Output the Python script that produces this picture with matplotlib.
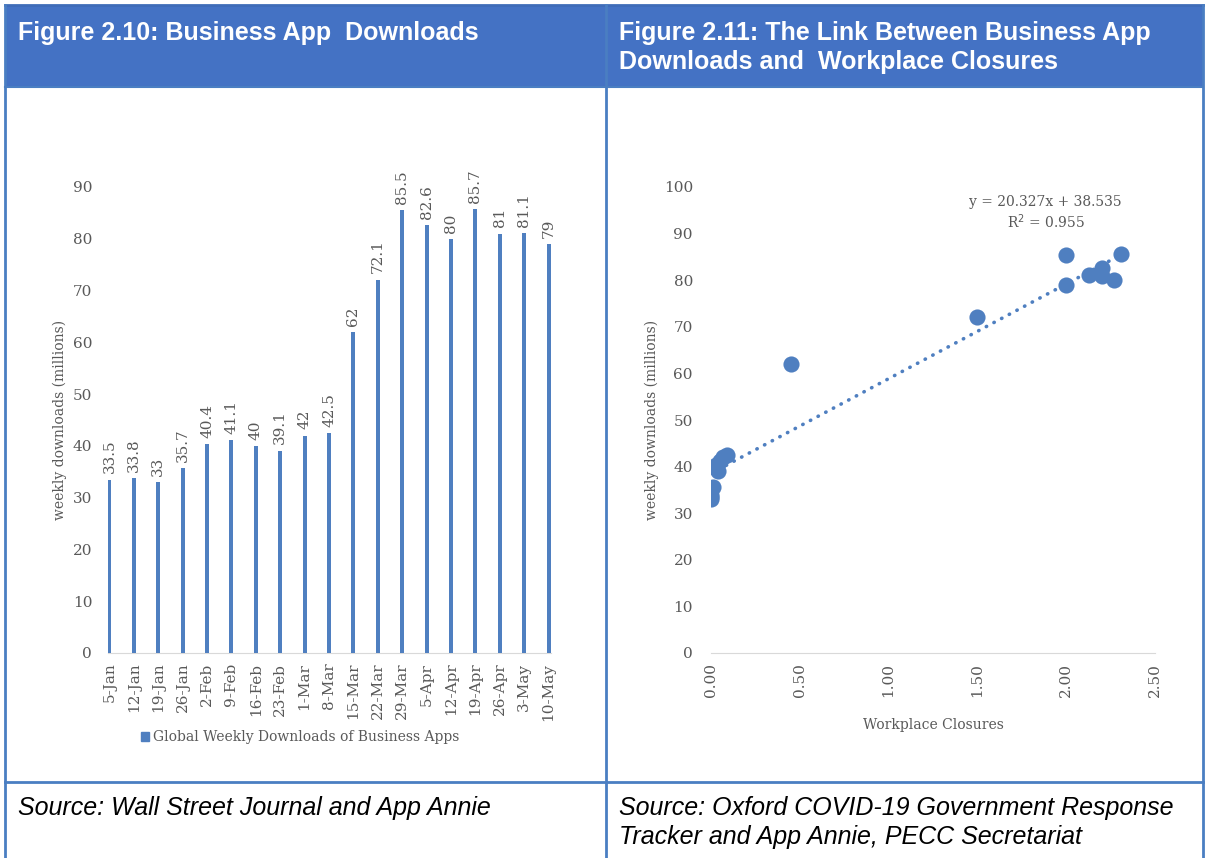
import numpy as np
import matplotlib.pyplot as plt
from matplotlib.patches import Rectangle, Patch

# weekly business app downloads (millions)
weeks = ['5-Jan', '12-Jan', '19-Jan', '26-Jan', '2-Feb', '9-Feb', '16-Feb', '23-Feb',
         '1-Mar', '8-Mar', '15-Mar', '22-Mar', '29-Mar', '5-Apr', '12-Apr', '19-Apr',
         '26-Apr', '3-May', '10-May']
downloads = [33.5, 33.8, 33, 35.7, 40.4, 41.1, 40, 39.1, 42, 42.5, 62, 72.1,
             85.5, 82.6, 80, 85.7, 81, 81.1, 79]
# workplace closures index for the same weeks
closures = [0.00, 0.00, 0.00, 0.01, 0.03, 0.05, 0.03, 0.04, 0.07, 0.09, 0.45, 1.50,
            2.00, 2.20, 2.27, 2.31, 2.20, 2.13, 2.00]
# trendline shown on the chart
slope, intercept = 20.327, 38.535

W, H = 1205, 858
blue = '#4472C4'
border = '#4A7EC2'
dot = '#4F7FC0'
grey = '#595959'
serif = 'DejaVu Serif'

fig = plt.figure(figsize=(W / 100, H / 100), dpi=100)


def px_axes(l, t, r, b):
    return fig.add_axes([l / W, 1 - b / H, (r - l) / W, (b - t) / H])


# table frame, header and footer
bg = fig.add_axes([0, 0, 1, 1])
bg.set_xlim(0, W)
bg.set_ylim(H, 0)
bg.axis('off')
bg.add_patch(Rectangle((5, 5), 1198, 82, color=blue, lw=0))
bg.plot([5, 1203], [5, 5], color='#3F6CB8', lw=2)
bg.plot([5, 1203], [87, 87], color=border, lw=1.5)
bg.plot([5, 1203], [782, 782], color=border, lw=2)
bg.plot([5, 5], [5, H], color=border, lw=2)
bg.plot([1203, 1203], [5, H], color=border, lw=2)
bg.plot([606, 606], [5, H], color=border, lw=2)

hdr = dict(color='white', fontsize=18, fontweight='bold', family='Liberation Sans', va='center')
bg.text(18, 33, 'Figure 2.10: Business App  Downloads', **hdr)
bg.text(619, 33, 'Figure 2.11: The Link Between Business App', **hdr)
bg.text(619, 62, 'Downloads and  Workplace Closures', **hdr)

src = dict(color='black', fontsize=18, style='italic', family='Liberation Sans', va='center')
bg.text(18, 808, 'Source: Wall Street Journal and App Annie', **src)
bg.text(619, 808, 'Source: Oxford COVID-19 Government Response', **src)
bg.text(619, 837, 'Tracker and App Annie, PECC Secretariat', **src)

# left: bar chart
ax1 = px_axes(107.5, 187, 551, 653)
x = np.arange(len(weeks))
ax1.bar(x, downloads, width=0.16, color=dot, zorder=3)
for xi, v in zip(x, downloads):
    ax1.text(xi, v + 1.2, '{:g}'.format(v), rotation=90, ha='center', va='bottom',
             fontsize=11, color=grey, family=serif)
ax1.set_xlim(-0.08, 18.1)
ax1.set_ylim(0, 90)
ax1.set_yticks(range(0, 91, 10))
ax1.set_xticks(x)
ax1.set_xticklabels(weeks, rotation=90)
for s in ['top', 'right', 'left']:
    ax1.spines[s].set_visible(False)
ax1.spines['bottom'].set_color('#D9D9D9')
ax1.tick_params(length=0, labelsize=11, labelcolor=grey)
ax1.tick_params(axis='y', pad=11)
ax1.tick_params(axis='x', pad=7)
for lab in ax1.get_xticklabels() + ax1.get_yticklabels():
    lab.set_family(serif)
ax1.set_ylabel('weekly downloads (millions)', fontsize=10, color=grey, family=serif, labelpad=4)
ax1.legend(handles=[Patch(color=dot, label='Global Weekly Downloads of Business Apps')],
           loc='center', bbox_to_anchor=(300 / W, 1 - 737 / H), bbox_transform=fig.transFigure,
           frameon=False, handlelength=0.6, handleheight=0.6, handletextpad=0.3,
           prop={'family': serif, 'size': 10}, labelcolor=grey)

# right: scatter with trendline
ax2 = px_axes(711, 187, 1155, 653)
ax2.scatter(closures, downloads, s=135, color=dot, zorder=3, linewidths=0)
tx = np.array([min(closures), max(closures)])
ax2.plot(tx, slope * tx + intercept, color=dot, lw=2.6, linestyle=(0, (0.1, 2.3)),
         dash_capstyle='round', zorder=2)
ax2.text(0.754, 0.967, 'y = 20.327x + 38.535', transform=ax2.transAxes, ha='center',
         va='center', fontsize=10, color=grey, family=serif)
ax2.text(0.754, 0.926, 'R$^2$ = 0.955', transform=ax2.transAxes, ha='center',
         va='center', fontsize=10, color=grey, family=serif)
ax2.set_xlim(0, 2.5)
ax2.set_ylim(0, 100)
ax2.set_yticks(range(0, 101, 10))
ax2.set_xticks(np.arange(0, 2.51, 0.5))
ax2.set_xticklabels(['{:.2f}'.format(v) for v in np.arange(0, 2.51, 0.5)], rotation=90)
for s in ['top', 'right', 'left']:
    ax2.spines[s].set_visible(False)
ax2.spines['bottom'].set_color('#D9D9D9')
ax2.tick_params(length=0, labelsize=11, labelcolor=grey)
ax2.tick_params(axis='y', pad=13)
ax2.tick_params(axis='x', pad=7)
for lab in ax2.get_xticklabels() + ax2.get_yticklabels():
    lab.set_family(serif)
ax2.set_ylabel('weekly downloads (millions)', fontsize=10, color=grey, family=serif, labelpad=3.5)
ax2.set_xlabel('Workplace Closures', fontsize=10, color=grey, family=serif, labelpad=15)

fig.savefig('out.png', dpi=100)
